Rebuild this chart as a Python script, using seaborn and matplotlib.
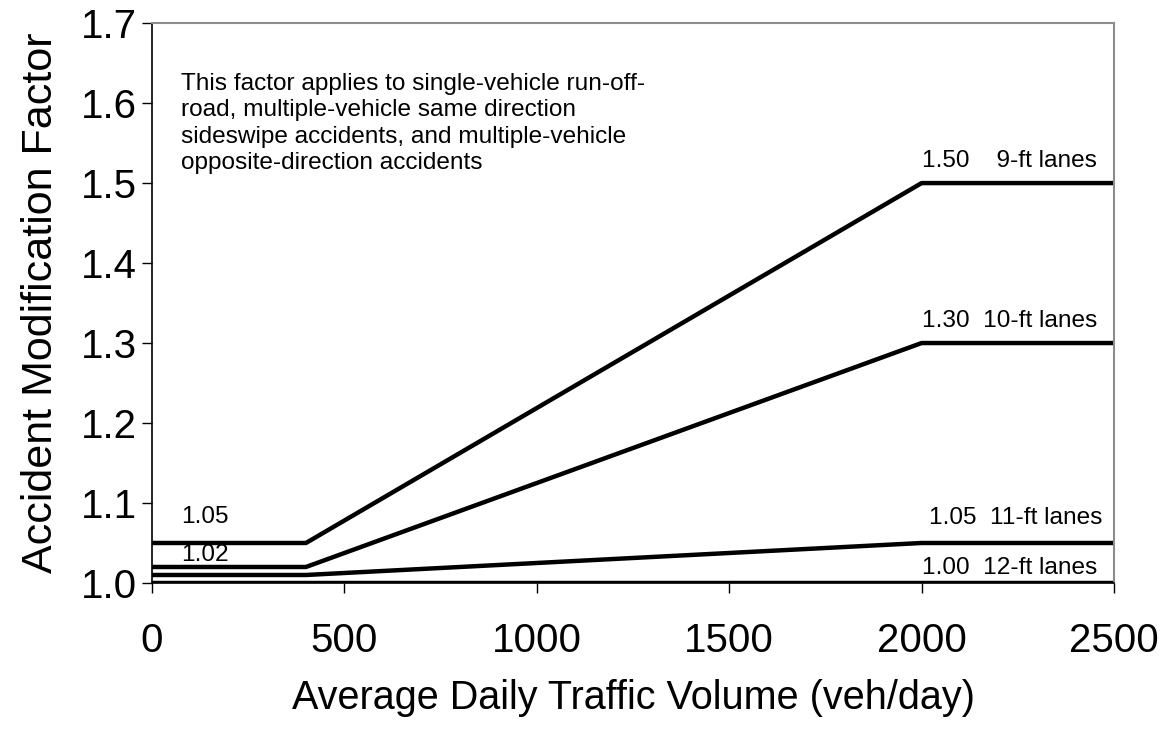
import pandas as pd
import numpy as np
import matplotlib.pyplot as plt
import seaborn as sns

# lane width curves: AMF vs ADT (breakpoints at 400 and 2000 veh/day)
adt = [0, 400, 2000, 2500]
amf_9ft = [1.05, 1.05, 1.50, 1.50]
amf_10ft = [1.02, 1.02, 1.30, 1.30]
amf_11ft = [1.01, 1.01, 1.05, 1.05]
amf_12ft = [1.00, 1.00, 1.00, 1.00]
lanes = ["9-ft lanes", "10-ft lanes", "11-ft lanes", "12-ft lanes"]

x_ticks = [0, 500, 1000, 1500, 2000, 2500]
y_ticks = [1.0, 1.1, 1.2, 1.3, 1.4, 1.5, 1.6, 1.7]

note = ("This factor applies to single-vehicle run-off-\n"
        "road, multiple-vehicle same direction\n"
        "sideswipe accidents, and multiple-vehicle\n"
        "opposite-direction accidents")

df = pd.DataFrame({
    "ADT": adt * 4,
    "AMF": amf_9ft + amf_10ft + amf_11ft + amf_12ft,
    "Lane": np.repeat(lanes, len(adt)),
})

sns.set_style("ticks")
plt.rcParams["font.family"] = ["Liberation Sans", "DejaVu Sans"]
plt.rcParams["text.color"] = "black"
plt.rcParams["axes.labelcolor"] = "black"
plt.rcParams["xtick.color"] = "black"
plt.rcParams["ytick.color"] = "black"

fig = plt.figure(figsize=(11.66, 7.29), dpi=100)
ax = fig.add_axes([0.1304, 0.2003, 0.8250, 0.7680])

sns.lineplot(data=df, x="ADT", y="AMF", units="Lane", estimator=None,
             color="black", linewidth=3.2, ax=ax, legend=False)

ax.set_xlim(0, 2500)
ax.set_ylim(1.0, 1.7)
ax.set_xticks(x_ticks)
ax.set_yticks(y_ticks)
ax.set_xticklabels([str(v) for v in x_ticks])
ax.set_yticklabels([f"{v:.1f}" for v in y_ticks])
ax.tick_params(axis="both", direction="out", length=7, width=1, labelsize=29)
ax.tick_params(axis="x", pad=21)
ax.tick_params(axis="y", pad=4)

ax.set_xlabel("Average Daily Traffic Volume (veh/day)", fontsize=28.5, labelpad=14)
ax.set_ylabel("Accident Modification Factor", fontsize=31, labelpad=14)

for side in ["left", "bottom"]:
    ax.spines[side].set_color("black")
    ax.spines[side].set_linewidth(1.2)
for side in ["top", "right"]:
    ax.spines[side].set_visible(True)
    ax.spines[side].set_color("#8c8c8c")
    ax.spines[side].set_linewidth(1.5)

# curve labels
fs = 17.6
ax.text(2000, amf_9ft[-1] + 0.028, "1.50    9-ft lanes", fontsize=fs, va="center")
ax.text(2000, amf_10ft[-1] + 0.028, "1.30  10-ft lanes", fontsize=fs, va="center")
ax.text(2020, amf_11ft[-1] + 0.031, "1.05  11-ft lanes", fontsize=fs, va="center")
ax.text(2000, amf_12ft[-1] + 0.019, "1.00  12-ft lanes", fontsize=fs, va="center")
ax.text(75, amf_9ft[0] + 0.033, "1.05", fontsize=fs, va="center")
ax.text(75, amf_10ft[0] + 0.015, "1.02", fontsize=fs, va="center")

ax.text(75, 1.638, note, fontsize=fs, va="top", linespacing=1.26)

plt.savefig("out.png", dpi=100)
